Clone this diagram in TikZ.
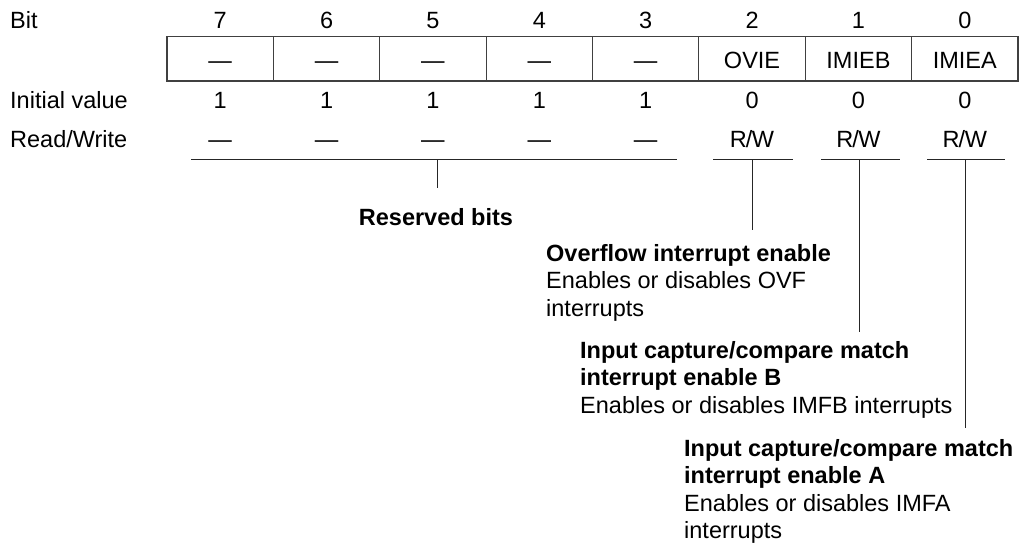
\documentclass[tikz,border=0pt]{standalone}
\usepackage{fontspec}
\setmainfont{Liberation Sans}
\begin{document}
\begin{tikzpicture}[x=1pt,y=-1pt,
  txt/.style={inner sep=0pt,font=\fontsize{23.5}{27.5}\selectfont},
  lbl/.style={txt,anchor=base west},
  ctr/.style={txt,anchor=base},
  desc/.style={txt,anchor=base west,align=left},
  cellbox/.style={draw=black!75,line width=1.2pt},
  conn/.style={draw=black!85,line width=1pt}]
\useasboundingbox (0,0) rectangle (1026,546);
% left labels
\node[lbl] (lbit) at (10,28) {Bit};
\node[lbl] (linit) at (10,108.5) {Initial value};
\node[lbl] (lrw) at (10,147.5) {Read/Write};
% register cells
\def\cw{106.375}
\foreach \i/\b/\name/\iv/\rw in {0/7/{—}/1/{—},1/6/{—}/1/{—},2/5/{—}/1/{—},3/4/{—}/1/{—},4/3/{—}/1/{—},5/2/{OVIE}/0/{R\kern-1pt/\kern-0.5pt W},6/1/{IMIEB}/0/{R\kern-1pt/\kern-0.5pt W},7/0/{IMIEA}/0/{R\kern-1pt/\kern-0.5pt W}}{
  \pgfmathsetmacro{\xl}{167+\cw*\i}
  \pgfmathsetmacro{\xc}{167+\cw*(\i+0.5)}
  \draw[cellbox] (\xl,36.5) rectangle ++(\cw,44.5);
  \node[ctr] (bit\b) at (\xc,28) {\b};
  \node[ctr] (cell\b) at (\xc,68) {\name};
  \node[ctr] (init\b) at (\xc,108.5) {\iv};
  \node[ctr] (rw\b) at (\xc,147.5) {\rw};
}
% underline coordinates
\coordinate (resL) at (191,159);
\coordinate (resR) at (677,159);
\coordinate (resM) at (437,159);
\coordinate (u2L) at (713,159);
\coordinate (u2R) at (793,159);
\coordinate (u2M) at (752,159);
\coordinate (u1L) at (821,159);
\coordinate (u1R) at (900,159);
\coordinate (u1M) at (859,159);
\coordinate (u0L) at (927,159);
\coordinate (u0R) at (1005,159);
\coordinate (u0M) at (965,159);
\coordinate (resE) at (437,188);
\coordinate (e2) at (752,230);
\coordinate (e1) at (859,332);
\coordinate (e0) at (965,428);
% descriptions (base anchor = baseline of last line)
\node[ctr,font=\fontsize{23.5}{27.5}\selectfont\bfseries] (resbits) at (436,225) {Reserved bits};
\node[desc] (ovie) at (546,316) {\textbf{Overflow interrupt enable}\\Enables or disables OVF\\interrupts};
\node[desc] (imieb) at (580,413) {\textbf{Input capture/compare match}\\\textbf{interrupt enable B}\\Enables or disables IMFB interrupts};
\node[desc] (imiea) at (684,538.5) {\textbf{Input capture/compare match}\\\textbf{interrupt enable A}\\Enables or disables IMFA\\interrupts};
% connectors
\draw[conn] (resL) -- (resR);
\draw[conn] (resM) -- (resE);
\draw[conn] (u2L) -- (u2R);
\draw[conn] (u2M) -- (e2);
\draw[conn] (u1L) -- (u1R);
\draw[conn] (u1M) -- (e1);
\draw[conn] (u0L) -- (u0R);
\draw[conn] (u0M) -- (e0);
\end{tikzpicture}
\end{document}
